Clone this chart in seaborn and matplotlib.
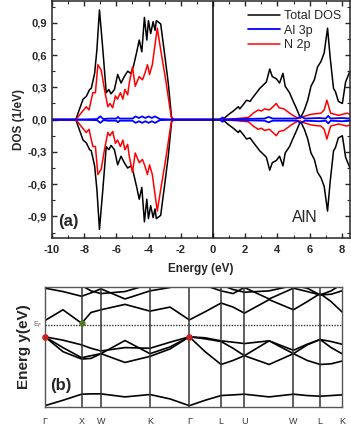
import matplotlib
matplotlib.use("Agg")
import matplotlib.pyplot as plt
import pandas as pd
import seaborn as sns
from matplotlib.ticker import FuncFormatter, MultipleLocator

# ---- DOS data (spin-up half, spin-down drawn as its mirror) ----
E_TOTAL = [-10, -8.6, -8.52, -8.07, -7.87, -7.66, -7.56, -7.35, -7.21, -7.05, -6.84, -6.63, -6.47,
           -6.33, -6.12, -5.92, -5.71, -5.51, -5.30, -5.10, -4.95, -4.75, -4.58, -4.42, -4.26,
           -4.11, -4.01, -3.87, -3.72, -3.60, -3.52, -3.25, -2.98, -2.78, -2.57, -2.4,
           0.4, 0.65, 0.95, 1.26, 1.57, 1.66, 1.88, 2.08, 2.3, 2.49, 2.70, 2.90, 3.11, 3.31,
           3.52, 3.68, 3.93, 4.13, 4.34, 4.48, 4.75, 4.95, 5.16, 5.43, 5.67, 5.88, 6.08, 6.29,
           6.49, 6.7, 6.90, 7.11, 7.27, 7.48, 7.6, 7.78, 8.03, 8.23, 8.5]
TOTAL_DOS = [0, 0, 0, 0.19, 0.215, 0.28, 0.29, 0.43, 0.65, 1.02, 0.65, 0.25, 0.28,
             0.24, 0.28, 0.42, 0.34, 0.40, 0.45, 0.43, 0.49, 0.62, 0.74, 0.63, 0.95,
             0.74, 0.92, 0.80, 0.91, 0.83, 0.92, 0.89, 0.58, 0.34, 0.015, 0,
             0, 0.006, 0.046, 0.08, 0.12, 0.10, 0.14, 0.18, 0.17, 0.21, 0.25, 0.29, 0.32, 0.35,
             0.47, 0.40, 0.38, 0.34, 0.43, 0.31, 0.25, 0.18, 0.11, 0.015, 0.09, 0.18, 0.31, 0.37,
             0.49, 0.54, 0.62, 0.85, 0.58, 0.29, 0.26, 0.17, 0.15, 0.35, 0.45]

E_N2P = [-10, -8.52, -7.87, -7.70, -7.46, -7.30, -7.15, -6.94, -6.74, -6.53, -6.40, -6.23, -6.06,
         -5.93, -5.75, -5.60, -5.47, -5.30, -5.20, -5.00, -4.83, -4.58, -4.38, -4.23, -4.07,
         -3.94, -3.77, -3.46, -3.25, -2.94, -2.60, -2.45,
         0.4, 1.5, 2.2, 2.5, 2.8, 3.0, 3.2, 3.5, 3.72, 3.93, 4.1, 4.4, 4.85, 5.3, 5.65, 6.1,
         6.7, 6.9, 7.07, 7.3, 7.8, 8.3, 8.5]
N2P_DOS = [0, 0, 0.12, 0.09, 0.25, 0.25, 0.51, 0.46, 0.28, 0.12, 0.15, 0.11, 0.22,
           0.19, 0.25, 0.19, 0.28, 0.23, 0.34, 0.49, 0.31, 0.40, 0.37, 0.43, 0.51,
           0.42, 0.51, 0.85, 0.65, 0.37, 0.03, 0,
           0, 0.01, 0.02, 0.06, 0.09, 0.08, 0.10, 0.09, 0.12, 0.15, 0.11, 0.10, 0.05, 0.01, 0.03, 0.05,
           0.06, 0.09, 0.18, 0.06, 0.04, 0.06, 0.05]

E_AL3P = [-10, -8.5, -7.2, -7.0, -6.8, -6.5, -6.0, -5.9, -5.8, -5.0, -4.8, -4.6, -4.4, -4.2,
          -4.0, -3.8, -3.6, -3.3, -2.5, 0.4, 0.6, 0.7, 1.5, 3.2, 3.45, 3.7, 4.0, 5.2, 5.45,
          5.7, 6.6, 7.0, 7.15, 7.3, 8.0, 8.5]
AL3P_DOS = [0, 0, 0.005, 0.03, 0.005, 0.01, 0.01, 0.025, 0.01, 0.01, 0.03, 0.015, 0.03, 0.015,
            0.03, 0.015, 0.03, 0.005, 0, 0, 0.02, 0, 0.005, 0.01, 0.025, 0.01, 0.01, 0.01, 0.03,
            0.01, 0.015, 0.01, 0.035, 0.01, 0.015, 0.01]

# ---- band structure data ----
K_PATH = [0, 18, 36.7, 46, 56, 80, 105, 125, 144.3, 160, 176, 188, 199.3, 224, 248.3, 262, 275, 286, 296.7]
K_TICKS = [0, 36.7, 56, 105, 144.3, 176, 199.3, 248.3, 275, 296.7]
K_LABELS = ["Γ", "X", "W", "K", "Γ", "L", "U", "W", "L", "K"]

BAND_S = [-12.0, -11.2, -10.3, -10.25, -10.25, -10.7, -10.35, -11.0, -12.0, -11.2, -10.5, -10.4,
          -10.3, -10.7, -10.3, -10.5, -10.6, -10.5, -10.4]
BAND_V1 = [-1.8, -2.3, -3.0, -3.5, -3.9, -3.4, -3.5, -2.6, -1.8, -1.95, -2.4, -2.6, -2.8, -2.4,
           -3.8, -2.9, -2.2, -2.5, -2.9]
BAND_V2 = [-1.8, -3.4, -4.9, -4.6, -4.3, -2.35, -4.3, -3.3, -1.8, -4.0, -5.9, -5.3, -4.6, -2.4,
           -4.3, -3.0, -2.2, -3.4, -4.3]
BAND_V3 = [-1.8, -4.0, -5.1, -5.0, -4.3, -5.6, -4.7, -3.6, -1.8, -2.1, -2.5, -3.5, -4.6, -5.9,
           -4.3, -5.3, -5.9, -5.8, -5.4]
BAND_C1 = [0.6, 2.2, 0.2, 1.8, 2.2, 3.0, 2.0, 2.6, 0.7, 1.9, 3.2, 2.6, 1.7, 3.7, 2.2, 3.4, 4.6,
           3.4, 1.9]
BAND_C2 = [5.4, 4.9, 4.2, 4.7, 5.3, 3.8, 5.0, 5.5, 6.5, 5.8, 5.0, 4.6, 5.5, 3.8, 5.4, 4.9, 4.4,
           4.5, 5.0]
BAND_C3 = [6.5, 6.2, 5.8, 5.0, 4.6, 4.9, 6.0, 6.5, 7.0, 6.5, 5.9, 5.2, 4.8, 5.0, 5.8, 5.4, 4.4,
           5.0, 6.0]

VBM = (0, -1.8)
VBM2 = (144.3, -1.8)
CBM = (36.7, 0.2)

sns.set_style("ticks")
plt.rcParams["font.family"] = ["Liberation Sans", "DejaVu Sans"]
plt.rcParams["axes.linewidth"] = 1.1

fig = plt.figure(figsize=(3.51, 4.28), dpi=100)
ax1 = fig.add_axes([0.148, 0.444, 0.849, 0.553])
ax2 = fig.add_axes([0.128, 0.049, 0.846, 0.2804])

# ---------------- (a) DOS ----------------
tot = pd.DataFrame({"E": E_TOTAL, "dos": TOTAL_DOS})
n2p = pd.DataFrame({"E": E_N2P, "dos": N2P_DOS})
al3p = pd.DataFrame({"E": E_AL3P, "dos": AL3P_DOS})

for df, color, lw, label in [(tot, "black", 1.1, "Total DOS"),
                             (n2p, "#ff0000", 1.1, "N 2p"),
                             (al3p, "#0000ff", 1.3, "Al 3p")]:
    sns.lineplot(data=df, x="E", y="dos", ax=ax1, color=color, lw=lw, sort=False,
                 estimator=None, label=label)
    ax1.plot(df["E"], -df["dos"], color=color, lw=lw)

ax1.axvline(0, color="black", lw=1.1)
ax1.set_xlim(-10, 8.5)
ax1.set_ylim(-1.1, 1.1)
ax1.xaxis.set_major_locator(MultipleLocator(2))
ax1.xaxis.set_minor_locator(MultipleLocator(1))
ax1.yaxis.set_major_locator(MultipleLocator(0.3))
ax1.yaxis.set_minor_locator(MultipleLocator(0.15))
ax1.xaxis.set_major_formatter(FuncFormatter(lambda v, p: f"{v:.0f}"))
ax1.yaxis.set_major_formatter(FuncFormatter(lambda v, p: f"{v:.1f}".replace(".", ",").replace("-0,0", "0,0")))
ax1.tick_params(which="both", direction="in", top=True, right=True, labelsize=8)
ax1.tick_params(axis="x", pad=5)
ax1.tick_params(which="major", length=3.5, width=1)
ax1.tick_params(which="minor", length=2, width=0.8)
for t in ax1.get_xticklabels() + ax1.get_yticklabels():
    t.set_fontweight("bold")
ax1.set_xlabel("Energy (eV)", fontsize=8.5, fontweight="bold", labelpad=6)
ax1.set_ylabel("DOS (1/eV)", fontsize=8.5, fontweight="bold", labelpad=2)

handles, labels = ax1.get_legend_handles_labels()
order = [labels.index(n) for n in ["Total DOS", "Al 3p", "N 2p"]]
ax1.legend([handles[i] for i in order], [labels[i] for i in order], loc="upper right",
           frameon=False, fontsize=9, handlelength=2.6, handletextpad=0.3, labelspacing=0.2,
           borderaxespad=0.3)
ax1.text(-8.95, -0.95, "(a)", fontsize=12, fontweight="bold", ha="center", va="center")
ax1.text(5.7, -0.91, "AlN", fontsize=11.5, ha="center", va="center")

# ---------------- (b) bands ----------------
for band in [BAND_S, BAND_V1, BAND_V2, BAND_V3, BAND_C1, BAND_C2, BAND_C3]:
    sns.lineplot(x=K_PATH, y=band, ax=ax2, color="black", lw=1.2, sort=False, estimator=None)

for k in K_TICKS[1:-1]:
    ax2.axvline(k, color="#333333", lw=1.1)
ax2.axhline(0, color="#333333", lw=1.0, ls=(0, (1, 1)))
ax2.scatter([VBM[0], VBM2[0]], [VBM[1], VBM2[1]], s=14, color="#c8201e", zorder=5, clip_on=False)
ax2.scatter([CBM[0]], [CBM[1]], s=12, color="#4d7a1f", zorder=5)

ax2.set_xlim(K_TICKS[0], K_TICKS[-1])
ax2.set_ylim(-12.2, 5.57)
ax2.set_xticks(K_TICKS)
ax2.set_xticklabels(K_LABELS, fontsize=6.5, color="#333333")
ax2.set_yticks([])
ax2.tick_params(axis="x", length=0, pad=7)
for s in ax2.spines.values():
    s.set_color("#555555")
    s.set_linewidth(1.0)
ax2.set_ylabel("Energ y(eV)", fontsize=11, fontweight="bold", labelpad=10)
ax2.text(-2, 0, "E$_F$", fontsize=5, color="#666666", ha="right", va="center")
ax2.text(16, -9.0, "(b)", fontsize=12, fontweight="bold", ha="center", va="center")

fig.savefig("out.png", dpi=100)
